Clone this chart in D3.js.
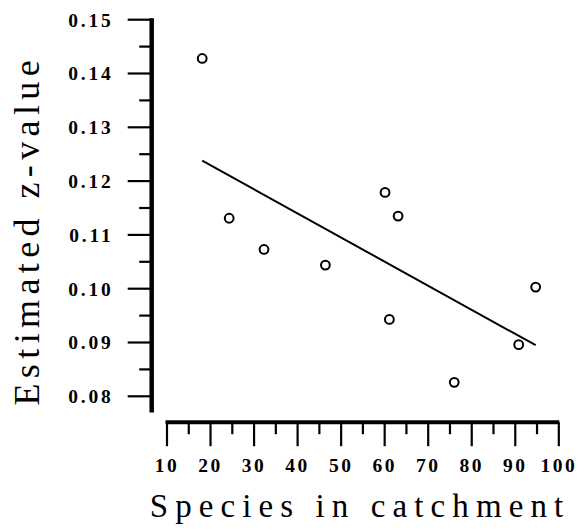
<!DOCTYPE html>
<html><head><meta charset="utf-8">
<script src="https://cdn.jsdelivr.net/npm/d3@7"></script>
<style>
html,body{margin:0;padding:0;background:#fff;}
svg{display:block;}
</style>
</head><body>
<svg id="chart" width="577" height="532"></svg>
<script>
// Data
const speciesInCatchment = [18.2, 24.4, 32.4, 46.5, 60.2, 63.2, 61.2, 76.1, 90.9, 94.8];
const estimatedZ        = [0.1427, 0.1130, 0.1072, 0.1043, 0.1178, 0.1134, 0.0942, 0.0825, 0.0895, 0.1002];
const fitLineX = [18.2, 94.8];
const fitLineY = [0.1237, 0.0894];
const xMajorTicks = [10, 20, 30, 40, 50, 60, 70, 80, 90, 100];
const xMinorTicks = [15, 25, 35, 45, 55, 65, 75, 85, 95];
const yMajorTicks = [0.08, 0.09, 0.10, 0.11, 0.12, 0.13, 0.14, 0.15];
const yMinorTicks = [0.085, 0.095, 0.105, 0.115, 0.125, 0.135, 0.145];
const yAxisBottom = 0.0769;
const xTitle = "Species in catchment";
const yTitle = "Estimated z-value";

const svg = d3.select("#chart");
const x = d3.scaleLinear().domain([10, 100]).range([166.5, 558.3]);
const y = d3.scaleLinear().domain([0.08, 0.15]).range([395.8, 19.2]);

const serif = "'Liberation Serif', 'DejaVu Serif', serif";

// Y axis
const yAxisX = 151.7;
const gy = svg.append("g").attr("transform", `translate(${yAxisX},0)`);
gy.call(d3.axisLeft(y).tickValues(yMajorTicks).tickSize(24).tickSizeOuter(0).tickFormat(d3.format(".2f")));
gy.select(".domain").remove();
gy.selectAll(".tick line").attr("stroke", "#000").attr("stroke-width", 2.2);
gy.selectAll(".tick text")
  .attr("x", -38.2).attr("dy", "0.35em")
  .attr("font-family", serif).attr("font-weight", "bold").attr("font-size", 19.5)
  .attr("letter-spacing", 2.8).attr("fill", "#000");
const gyMinor = svg.append("g").attr("transform", `translate(${yAxisX},0)`);
gyMinor.call(d3.axisLeft(y).tickValues(yMinorTicks).tickSize(12.5).tickFormat(""));
gyMinor.select(".domain").remove();
gyMinor.selectAll(".tick line").attr("stroke", "#000").attr("stroke-width", 2.2);
svg.append("line")
  .attr("x1", yAxisX).attr("x2", yAxisX)
  .attr("y1", y(0.15) - 1).attr("y2", y(yAxisBottom))
  .attr("stroke", "#000").attr("stroke-width", 4.5);

// X axis
const xAxisY = 422.2;
const gx = svg.append("g").attr("transform", `translate(0,${xAxisY})`);
gx.call(d3.axisBottom(x).tickValues(xMajorTicks).tickSize(24).tickSizeOuter(0).tickFormat(d3.format("d")));
gx.select(".domain").remove();
gx.selectAll(".tick line").attr("stroke", "#000").attr("stroke-width", 2.2);
gx.selectAll(".tick text")
  .attr("y", 49.5).attr("dy", 0).attr("dx", 0)
  .attr("font-family", serif).attr("font-weight", "bold").attr("font-size", 19.5)
  .attr("letter-spacing", 2.5).attr("fill", "#000");
const gxMinor = svg.append("g").attr("transform", `translate(0,${xAxisY})`);
gxMinor.call(d3.axisBottom(x).tickValues(xMinorTicks).tickSize(12).tickFormat(""));
gxMinor.select(".domain").remove();
gxMinor.selectAll(".tick line").attr("stroke", "#000").attr("stroke-width", 2.2);
svg.append("line")
  .attr("x1", x(10) - 1).attr("x2", x(100) + 1)
  .attr("y1", xAxisY).attr("y2", xAxisY)
  .attr("stroke", "#000").attr("stroke-width", 4);

// Regression line
const line = d3.line().x(d => x(d[0])).y(d => y(d[1]));
svg.append("path")
  .datum(d3.zip(fitLineX, fitLineY))
  .attr("d", line)
  .attr("fill", "none").attr("stroke", "#000").attr("stroke-width", 2);

// Points
svg.append("g").selectAll("circle")
  .data(d3.zip(speciesInCatchment, estimatedZ))
  .join("circle")
  .attr("cx", d => x(d[0])).attr("cy", d => y(d[1]))
  .attr("r", 4.4)
  .attr("fill", "#fff").attr("stroke", "#000").attr("stroke-width", 2);

// Titles
svg.append("text")
  .attr("x", 356.5 + 3.5).attr("y", 516.5)
  .attr("text-anchor", "middle")
  .attr("font-family", serif).attr("font-size", 33)
  .attr("letter-spacing", 7.1).attr("fill", "#000")
  .text(xTitle);

svg.append("text")
  .attr("transform", `translate(39,${227.5 + 2.7}) rotate(-90)`)
  .attr("text-anchor", "middle")
  .attr("font-family", serif).attr("font-size", 36)
  .attr("letter-spacing", 5.4).attr("fill", "#000")
  .text(yTitle);
</script>
</body></html>
